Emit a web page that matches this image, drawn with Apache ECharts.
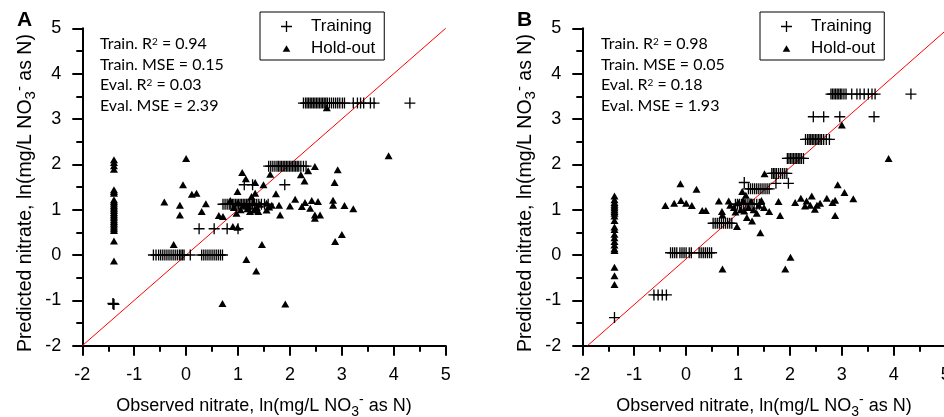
<!DOCTYPE html>
<html><head><meta charset="utf-8">
<script src="https://cdn.jsdelivr.net/npm/echarts@6/dist/echarts.min.js"></script>
<style>html,body{margin:0;padding:0;background:#fff}#c{width:944px;height:417px}</style>
</head><body><div id="c"></div>
<script>
// ---------- data ----------
const xTicks = [-2, -1, 0, 1, 2, 3, 4, 5];
const yTicks = [-2, -1, 0, 1, 2, 3, 4, 5];

const trainA = [
  [2.26,3.35],[2.30,3.35],[2.33,3.35],[2.36,3.35],[2.39,3.35],[2.42,3.35],[2.45,3.35],[2.48,3.35],[2.51,3.35],[2.54,3.35],
  [2.57,3.35],[2.60,3.35],[2.63,3.35],[2.66,3.35],[2.69,3.35],[2.72,3.35],[2.76,3.35],[2.80,3.35],[2.84,3.35],[2.88,3.35],
  [2.92,3.35],[2.96,3.35],[3.01,3.35],[3.05,3.35],[3.22,3.35],[3.30,3.35],[3.36,3.35],[3.42,3.35],[3.55,3.35],[3.62,3.35],
  [4.31,3.35],
  [1.59,1.96],[1.63,1.96],[1.67,1.96],[1.71,1.96],[1.75,1.96],[1.78,1.96],[1.81,1.96],[1.84,1.96],[1.87,1.96],[1.90,1.96],
  [1.93,1.96],[1.96,1.96],[1.99,1.96],[2.02,1.96],[2.05,1.96],[2.08,1.96],[2.11,1.96],[2.14,1.96],[2.17,1.96],[2.21,1.96],
  [2.26,1.96],[2.31,1.96],
  [1.12,1.55],[1.28,1.55],[1.90,1.55],
  [0.71,1.12],[0.75,1.12],[0.79,1.12],[0.83,1.12],[0.86,1.12],[0.89,1.12],[0.92,1.12],[0.95,1.12],[0.98,1.12],[1.01,1.12],
  [1.04,1.12],[1.07,1.12],[1.10,1.12],[1.13,1.12],[1.16,1.12],[1.19,1.12],[1.22,1.12],[1.25,1.12],[1.28,1.12],[1.32,1.12],
  [1.36,1.12],[1.40,1.12],[1.45,1.12],[1.51,1.12],[1.58,1.12],
  [0.25,0.58],[0.54,0.58],[0.79,0.58],[1.00,0.58],
  [-0.63,0],[-0.58,0],[-0.53,0],[-0.49,0],[-0.45,0],[-0.41,0],[-0.37,0],[-0.33,0],[-0.29,0],[-0.25,0],
  [-0.21,0],[-0.17,0],[-0.13,0],[-0.10,0],[-0.07,0],[-0.04,0],[0.08,0],[0.30,0],[0.34,0],[0.38,0],
  [0.42,0],[0.46,0],[0.50,0],[0.54,0],[0.58,0],[0.62,0],[0.66,0],[0.70,0],
  [-1.40,-1.08],[-1.39,-1.09],[-1.41,-1.07]
];

const holdA = [
  [-1.39,2.10],[-1.39,2.04],[-1.39,1.97],[-1.39,1.89],[-1.39,1.44],[-1.39,1.40],[-1.39,1.36],[-1.39,1.22],[-1.39,1.18],
  [-1.39,1.14],[-1.39,1.10],[-1.39,1.06],[-1.39,1.02],[-1.39,0.98],[-1.39,0.94],[-1.39,0.90],[-1.39,0.86],[-1.39,0.82],
  [-1.39,0.78],[-1.39,0.74],[-1.39,0.70],[-1.39,0.66],[-1.39,0.62],[-1.39,0.58],[-1.39,0.54],[-1.39,0.31],[-1.39,-0.13],
  [0.00,2.13],[-0.42,1.17],[-0.12,1.10],[-0.12,0.88],[-0.06,1.55],[0.11,1.34],[0.20,1.36],[0.38,1.13],[0.30,0.96],
  [0.63,0.87],[0.71,0.85],[0.90,0.63],[0.99,0.61],[-0.24,0.23],[1.08,1.82],[0.99,1.40],[1.16,-0.10],[1.35,-0.35],
  [0.70,-1.07],[1.46,0.23],[1.15,1.68],[1.33,1.60],[1.49,1.55],[1.73,1.35],[1.62,1.78],[2.21,1.77],[2.28,1.63],
  [2.48,1.95],[2.35,1.86],[2.92,1.88],[2.86,1.60],[3.90,2.19],[2.71,3.25],[1.79,1.10],[2.00,1.08],[2.10,1.23],
  [2.23,1.07],[2.29,1.16],[2.42,1.20],[2.54,1.18],[2.39,1.03],[2.48,0.88],[2.58,0.88],[2.48,0.81],[2.83,1.21],
  [2.83,1.10],[3.05,1.09],[3.22,1.02],[1.81,0.88],[3.00,0.45],[2.87,0.30],[1.91,-1.08],[0.97,0.92],[1.23,0.96],
  [1.39,0.96],[1.55,0.99],[1.26,1.29],[1.33,1.36],[0.85,1.20],[1.00,1.15],[1.12,1.10],[1.20,1.08],[1.30,1.15],
  [1.42,1.12],[1.55,1.14],[1.65,1.10],[0.92,1.05],[1.05,1.00],[1.18,1.02],[1.60,1.06],[1.36,1.05],[1.31,0.99]
];

const trainB = [
  [2.79,3.55],[2.82,3.55],[2.85,3.55],[2.88,3.55],[2.91,3.55],[2.94,3.55],[2.97,3.55],[3.00,3.55],[3.04,3.55],[3.08,3.55],
  [3.19,3.55],[3.29,3.55],[3.35,3.55],[3.43,3.55],[3.51,3.55],[3.58,3.55],[3.64,3.55],[4.33,3.55],
  [2.45,3.05],[2.65,3.05],[2.96,3.05],[3.62,3.05],
  [2.30,2.55],[2.34,2.55],[2.37,2.55],[2.40,2.55],[2.43,2.55],[2.46,2.55],[2.49,2.55],[2.52,2.55],[2.55,2.55],[2.58,2.55],
  [2.61,2.55],[2.65,2.55],[2.70,2.55],[2.76,2.55],
  [1.95,2.13],[1.98,2.13],[2.01,2.13],[2.04,2.13],[2.07,2.13],[2.10,2.13],[2.13,2.13],[2.16,2.13],[2.19,2.13],[2.22,2.13],[2.26,2.13],
  [1.65,1.80],[1.68,1.80],[1.71,1.80],[1.74,1.80],[1.78,1.80],[1.82,1.80],[1.86,1.80],[1.90,1.80],[1.94,1.80],
  [1.12,1.60],[1.73,1.58],[1.97,1.58],
  [1.20,1.46],[1.24,1.46],[1.28,1.46],[1.32,1.46],[1.36,1.46],[1.40,1.46],[1.44,1.46],[1.48,1.46],[1.52,1.46],[1.56,1.46],[1.60,1.46],
  [0.95,1.12],[0.99,1.12],[1.03,1.12],[1.07,1.12],[1.11,1.12],[1.15,1.12],[1.19,1.12],[1.23,1.12],[1.27,1.12],[1.31,1.12],[1.36,1.12],[1.41,1.12],
  [0.52,0.70],[0.56,0.70],[0.60,0.70],[0.64,0.70],[0.68,0.70],[0.72,0.70],[0.76,0.70],[0.80,0.70],[0.84,0.70],[0.88,0.70],
  [-0.30,0.05],[-0.26,0.05],[-0.22,0.05],[-0.18,0.05],[-0.12,0.05],[-0.08,0.05],[-0.04,0.05],[0.00,0.05],[0.06,0.05],[0.10,0.05],
  [0.25,0.05],[0.29,0.05],[0.33,0.05],[0.37,0.05],[0.41,0.05],[0.45,0.05],[0.49,0.05],
  [-0.62,-0.88],[-0.54,-0.88],[-0.46,-0.88],[-0.38,-0.88],
  [-1.38,-1.38]
];

const holdB = [
  [-1.38,1.30],[-1.38,1.22],[-1.38,1.16],[-1.38,1.12],[-1.38,1.08],[-1.38,1.04],[-1.38,1.00],[-1.38,0.96],[-1.38,0.92],
  [-1.38,0.86],[-1.38,0.76],[-1.38,0.62],[-1.38,0.56],[-1.38,0.46],[-1.38,0.38],[-1.38,0.30],[-1.38,0.22],[-1.38,0.14],
  [-1.38,0.10],[-1.38,-0.27],[-1.38,-0.46],[-1.38,-0.65],
  [-0.11,1.57],[0.20,1.45],[-0.40,1.09],[-0.23,1.14],[-0.10,1.20],[0.00,1.14],[0.11,1.09],[0.31,0.98],[0.38,0.98],
  [0.63,1.19],[0.69,0.96],[0.82,1.19],[0.70,-0.31],[1.08,1.40],[1.17,0.83],[1.27,0.75],[1.43,0.49],[1.51,1.79],
  [1.15,1.32],[0.70,0.88],[0.98,0.63],[1.81,0.87],[1.60,0.96],[1.36,0.92],[1.78,1.18],[2.10,1.16],[2.21,1.25],
  [2.29,1.08],[2.42,1.30],[2.48,1.01],[2.58,1.14],[2.71,1.25],[2.82,1.16],[2.87,1.21],[2.87,0.87],[2.92,1.55],
  [3.05,1.38],[3.22,1.24],[3.00,2.87],[3.90,2.13],[2.32,1.19],[2.39,1.10],[2.52,1.10],[1.91,-0.31],[2.01,-0.05],
  [0.92,1.05],[1.00,1.15],[1.05,1.00],[1.10,1.20],[1.20,1.05],[1.25,1.18],[1.30,1.00],[1.40,1.10],[1.45,1.20],
  [1.50,1.05],[0.95,0.95],[1.12,0.97],[0.85,1.10]
];

const lineA = [[-2, -2], [5, 5]];
const lineB = [[-1.9, -2], [5, 4.95]];

const statsA = ['Train. R{sup|2} = 0.94', 'Train. MSE = 0.15', 'Eval. R{sup|2} = 0.03', 'Eval. MSE = 2.39'];
const statsB = ['Train. R{sup|2} = 0.98', 'Train. MSE = 0.05', 'Eval. R{sup|2} = 0.18', 'Eval. MSE = 1.93'];

// ---------- chart ----------
const FONT = '"Liberation Sans", Arial, sans-serif';
const STATFONT = 'Lato, "Open Sans", sans-serif';
const PLUS = 'path://M0,4.4H10V5.6H0Z M4.4,0H5.6V10H4.4Z';
const TRI_ICON = 'path://M0,0M11,11M1.7,8.7L5.5,2.3L9.3,8.7Z';

const grids = [
  { left: 82.3, top: 28.3, width: 363.4, height: 317.4, outerBoundsMode: 'none', containLabel: false },
  { left: 582.3, top: 28.3, width: 363.4, height: 317.4, outerBoundsMode: 'none', containLabel: false }
];

function nameRich(fs, sub) {
  return {
    a: { fontSize: fs, lineHeight: 26, fontFamily: FONT, color: '#000' },
    sub: { fontSize: sub, lineHeight: 17, verticalAlign: 'bottom', fontFamily: FONT, color: '#000' },
    sup: { fontSize: sub, lineHeight: 15, verticalAlign: 'top', fontFamily: FONT, color: '#000' }
  };
}

function xAxis(i) {
  return {
    gridIndex: i, type: 'value', min: xTicks[0], max: xTicks[xTicks.length - 1], interval: 1,
    axisLine: { show: true, onZero: false, lineStyle: { color: '#000', width: 2 } },
    axisTick: { show: true, length: 10, lineStyle: { color: '#000', width: 2 } },
    minorTick: { show: true, splitNumber: 2, length: 6, lineStyle: { color: '#000', width: 2 } },
    splitLine: { show: false },
    axisLabel: { color: '#000', fontSize: 18, fontFamily: FONT, margin: 20 },
    name: '{a|Observed nitrate, ln(mg/L NO}{sub|3}{sup|-}{a| as N)}',
    nameLocation: 'middle', nameGap: 47,
    nameTextStyle: { rich: nameRich(18, 14) }
  };
}
function yAxis(i) {
  return {
    gridIndex: i, type: 'value', min: yTicks[0], max: yTicks[yTicks.length - 1], interval: 1,
    axisLine: { show: true, onZero: false, lineStyle: { color: '#000', width: 2 } },
    axisTick: { show: true, length: 10, lineStyle: { color: '#000', width: 2 } },
    minorTick: { show: true, splitNumber: 2, length: 6, lineStyle: { color: '#000', width: 2 } },
    splitLine: { show: false },
    axisLabel: { color: '#000', fontSize: 18, fontFamily: FONT, margin: 21 },
    name: '{a|Predicted nitrate, ln(mg/L NO}{sub|3}{sup|-}{a| as N)}',
    nameLocation: 'middle', nameGap: 44,
    nameTextStyle: { padding: [0, 12, 0, 0], rich: nameRich(19.5, 15) }
  };
}
function legend(left) {
  return {
    orient: 'vertical', left: left, top: 12,
    data: [{ name: 'Training', icon: PLUS }, { name: 'Hold-out', icon: TRI_ICON }],
    itemWidth: 11, itemHeight: 11, itemGap: 5,
    padding: [6, 9, 3, 21],
    borderColor: '#000', borderWidth: 1, borderRadius: 0,
    selectedMode: false,
    textStyle: { fontSize: 17, fontFamily: FONT, color: '#000', padding: [0, 0, 0, 14] }
  };
}
function statText(left, lines) {
  return {
    type: 'text', left: left, top: 33.7,
    style: {
      text: lines.join('\n'), fontFamily: STATFONT, fontSize: 16, lineHeight: 20.5, fill: '#000',
      rich: { sup: { fontSize: 10, lineHeight: 20.5, verticalAlign: 'top', padding: [3, 0, 0, 0], fontFamily: STATFONT } }
    }
  };
}
function scat(name, data, i) {
  const isTrain = name === 'Training';
  return {
    type: 'scatter', name: name, xAxisIndex: i, yAxisIndex: i, data: data,
    symbol: isTrain ? PLUS : 'triangle',
    symbolSize: isTrain ? 11 : [8, 7],
    itemStyle: { color: '#000', opacity: 1 },
    silent: true, z: 3
  };
}
function fitLine(data, i) {
  return {
    type: 'line', name: 'fit', xAxisIndex: i, yAxisIndex: i, data: data,
    showSymbol: false, symbol: 'none', silent: true, z: 2,
    lineStyle: { color: '#ff0000', width: 1 }
  };
}

const chart = echarts.init(document.getElementById('c'), null, { renderer: 'canvas' });
chart.setOption({
  animation: false,
  backgroundColor: '#fff',
  grid: grids,
  xAxis: [xAxis(0), xAxis(1)],
  yAxis: [yAxis(0), yAxis(1)],
  legend: [legend(260), legend(760)],
  series: [
    fitLine(lineA, 0), scat('Training', trainA, 0), scat('Hold-out', holdA, 0),
    fitLine(lineB, 1), scat('Training', trainB, 1), scat('Hold-out', holdB, 1)
  ],
  graphic: [
    { type: 'text', left: 17, top: 10, style: { text: 'A', font: 'bold 21px "Liberation Sans", Arial, sans-serif', fill: '#000' } },
    { type: 'text', left: 517, top: 10, style: { text: 'B', font: 'bold 21px "Liberation Sans", Arial, sans-serif', fill: '#000' } },
    statText(100, statsA),
    statText(601, statsB)
  ]
});
</script></body></html>
